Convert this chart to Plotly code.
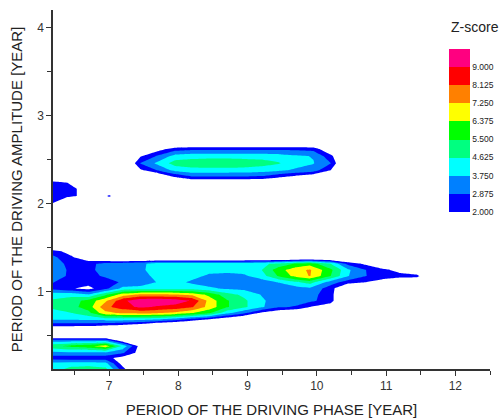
import plotly.graph_objects as go

# ---- contour levels / colours ----
levels = [2.0, 2.875, 3.75, 4.625, 5.5, 6.375, 7.25, 8.125, 9.0]
level_labels = ["2.000", "2.875", "3.750", "4.625", "5.500", "6.375", "7.250", "8.125", "9.000"]
band_colors = ["#0000FF", "#0080FF", "#00FFFF", "#00FF80", "#00FF00",
               "#FFFF00", "#FF8000", "#FF0000", "#FF0080"]

# ---- bottom band (periods of driven amplitude < 0.5 yr) ----
bottom_x = [6.19, 6.45, 6.7, 6.95, 7.2, 7.45, 7.7]
bottom_y = [0.12, 0.19, 0.25, 0.31, 0.385, 0.45, 0.51]
bottom_cols = [
    [4.2, 4.0, 2.4, 3.5, 5.3, 3.3, 0],
    [5.0, 4.1, 2.3, 3.6, 5.8, 3.3, 0],
    [5.2, 4.1, 2.3, 3.6, 6.1, 3.3, 0],
    [4.9, 4.0, 2.3, 3.6, 7.0, 3.3, 0],
    [2.4, 1.5, 1.6, 3.0, 4.4, 1.2, 0],
    [0, 0, 0, 1.6, 1.6, 0, 0],
    [0, 0, 0, 0, 0, 0, 0],
]

# ---- middle band (around 1 yr) ----
middle_x = [6.19, 6.45, 6.7, 6.95, 7.2, 7.45, 7.7, 7.95, 8.2, 8.45, 8.7, 8.95,
            9.2, 9.45, 9.7, 9.9, 10.2, 10.45, 10.7, 10.95, 11.2, 11.45, 11.7]
middle_y = [0.55, 0.62, 0.69, 0.76, 0.83, 0.90, 0.97, 1.04, 1.11, 1.18, 1.25,
            1.32, 1.39, 1.46, 1.53]
middle_cols = [
    [0, 2.33, 3.9, 4.3, 4.8, 4.75, 4.2, 2.6, 2.9, 3.3, 3.4, 3.3, 3.1, 2.4, 0],
    [0, 2.33, 3.9, 4.6, 5.2, 5.1, 4.3, 2.1, 2.5, 2.7, 2.7, 2.6, 2.2, 1.6, 0],
    [0, 2.26, 4.0, 5.2, 5.9, 5.8, 3.8, 1.7, 2.4, 2.6, 2.6, 2.6, 1.2, 0, 0],
    [0, 2.0, 4.2, 7.0, 7.9, 7.1, 5.3, 2.64, 2.5, 3.0, 3.3, 3.2, 0.6, 0, 0],
    [0, 1.83, 4.2, 7.4, 8.6, 8.8, 6.8, 4.0, 3.0, 3.3, 3.4, 3.3, 0, 0, 0],
    [0, 1.43, 4.1, 7.5, 9.2, 9.6, 7.4, 4.1, 3.2, 3.4, 3.6, 3.5, 0, 0, 0],
    [0, 0.6, 3.9, 7.3, 8.9, 9.7, 7.4, 4.2, 3.8, 4.0, 4.1, 4.2, 0, 0, 0],
    [0, 0.2, 3.4, 7.0, 8.7, 9.5, 7.3, 4.2, 4.0, 4.1, 4.2, 4.2, 0, 0, 0],
    [0, 0, 2.6, 6.4, 8.2, 8.9, 7.0, 4.2, 3.6, 4.0, 4.2, 4.2, 0, 0, 0],
    [0, 0, 2.0, 5.6, 6.9, 6.9, 6.1, 3.9, 3.3, 3.6, 4.0, 4.2, 0, 0, 0],
    [0, 0, 1.2, 4.0, 5.6, 5.6, 5.0, 3.6, 3.2, 3.5, 4.0, 4.2, 0, 0, 0],
    [0, 0, 0.6, 3.0, 4.8, 4.8, 4.4, 3.5, 3.2, 3.6, 4.1, 4.2, 0, 0, 0],
    [0, 0, 0, 1.8, 3.9, 3.9, 3.7, 3.4, 3.3, 4.2, 4.6, 4.4, 0, 0, 0],
    [0, 0, 0, 1.2, 3.0, 3.3, 3.3, 3.3, 3.8, 5.6, 6.0, 4.9, 0, 0, 0],
    [0, 0, 0, 0.8, 2.8, 3.2, 3.2, 3.4, 4.5, 6.7, 7.0, 5.6, 0, 0, 0],
    [0, 0, 0, 0.3, 2.0, 3.1, 3.2, 3.6, 5.0, 7.3, 7.35, 6.0, 0, 0, 0],
    [0, 0, 0, 0, 1.4, 2.4, 2.4, 2.4, 3.3, 5.5, 5.7, 4.6, 0, 0, 0],
    [0, 0, 0, 0, 0, 0, 0, 0.6, 2.4, 3.8, 3.9, 2.6, 0, 0, 0],
    [0, 0, 0, 0, 0, 0, 0, 0, 2.0, 2.9, 2.9, 1.8, 0, 0, 0],
    [0, 0, 0, 0, 0, 0, 0, 0, 1.4, 2.6, 2.3, 0.5, 0, 0, 0],
    [0, 0, 0, 0, 0, 0, 0, 0, 0.8, 2.4, 1.6, 0, 0, 0, 0],
    [0, 0, 0, 0, 0, 0, 0, 0, 0.6, 2.3, 1.0, 0, 0, 0, 0],
    [0, 0, 0, 0, 0, 0, 0, 0, 0, 0, 0, 0, 0, 0, 0],
]

# ---- small blob near 2 yr ----
blob_x = [6.19, 6.4, 6.6, 6.8, 7.0, 7.2]
blob_y = [1.92, 2.01, 2.09, 2.17, 2.25, 2.33]
blob_cols = [
    [0, 2.0, 2.6, 2.7, 2.05, 0],
    [0, 1.0, 2.2, 2.6, 1.9, 0],
    [0, 0, 1.9, 1.7, 0.5, 0],
    [0, 0, 0, 0, 0, 0],
    [0, 0, 2.3, 0, 0, 0],
    [0, 0, 0, 0, 0, 0],
]

# ---- upper band (around 2.45 yr) ----
upper_x = [7.2, 7.45, 7.7, 7.95, 8.2, 8.45, 8.7, 8.95, 9.2, 9.45, 9.7, 9.95, 10.2, 10.45]
upper_y = [2.22, 2.30, 2.38, 2.46, 2.54, 2.62, 2.70]
upper_cols = [
    [0, 0, 0, 0, 0, 0, 0],
    [0, 0.5, 1.8, 2.9, 1.9, 0.6, 0],
    [0, 0.5, 2.9, 3.95, 3.0, 1.6, 0],
    [0, 1.9, 4.0, 5.0, 4.1, 2.5, 0],
    [0, 2.7, 4.3, 5.1, 4.3, 2.7, 0],
    [0, 2.7, 4.3, 5.2, 4.35, 2.7, 0],
    [0, 2.7, 4.3, 5.2, 4.35, 2.7, 0],
    [0, 2.7, 4.25, 5.15, 4.3, 2.7, 0],
    [0, 2.6, 4.1, 5.0, 4.3, 2.7, 0],
    [0, 2.0, 3.9, 4.7, 4.2, 2.7, 0],
    [0, 1.5, 3.6, 4.1, 3.9, 2.7, 0],
    [0, 1.0, 3.3, 3.8, 3.7, 2.6, 0],
    [0, 0.3, 2.0, 2.9, 2.3, 1.0, 0],
    [0, 0, 0, 0, 0, 0, 0],
]

x_ticks = [7, 8, 9, 10, 11, 12]
y_ticks = [1, 2, 3, 4]


def rows(cols):
    return [list(r) for r in zip(*cols)]


n = len(band_colors)
contour_scale = [[0.0, "rgba(255,255,255,0)"]] + [[(k + 1) / n, band_colors[k]] for k in range(n)]
step = levels[1] - levels[0]

fig = go.Figure()
for xs, ys, cols in [(bottom_x, bottom_y, bottom_cols), (middle_x, middle_y, middle_cols),
                     (blob_x, blob_y, blob_cols), (upper_x, upper_y, upper_cols)]:
    fig.add_trace(go.Contour(
        x=xs, y=ys, z=rows(cols),
        autocontour=False,
        contours=dict(start=levels[0], end=levels[-1], size=step,
                      coloring="fill", showlines=False),
        line=dict(width=0, smoothing=0),
        colorscale=contour_scale, showscale=False, hoverinfo="skip",
    ))

# colour key
bar_scale = []
for k, c in enumerate(band_colors):
    bar_scale.append([k / n, c])
    bar_scale.append([(k + 1) / n, c])
fig.add_trace(go.Scatter(
    x=[None], y=[None], mode="markers", showlegend=False, hoverinfo="skip",
    marker=dict(color=[levels[0]], cmin=levels[0], cmax=levels[-1] + step,
                colorscale=bar_scale, showscale=True,
                colorbar=dict(
                    x=0.906, xanchor="left", xpad=0,
                    y=0.438, yanchor="bottom", ypad=0,
                    len=0.453, lenmode="fraction", thickness=21,
                    outlinewidth=0, ticks="",
                    tickmode="array", tickvals=levels, ticktext=level_labels,
                    tickfont=dict(size=8.5, color="#222"),
                )),
))
fig.add_annotation(text="Z-score", x=0.965, y=0.952, xref="paper", yref="paper",
                   xanchor="center", yanchor="middle", showarrow=False,
                   font=dict(size=14, color="#222"))

axis_common = dict(
    showline=True, linecolor="#333", linewidth=1.5, mirror=False,
    ticks="outside", ticklen=5, tickwidth=1.2, tickcolor="#333",
    showgrid=False, zeroline=False,
    tickfont=dict(size=12, color="#333"),
    minor=dict(ticks="outside", ticklen=4, tickwidth=1.2, tickcolor="#333", dtick=0.5),
)
fig.update_xaxes(range=[6.19, 12.5], tickmode="array", tickvals=x_ticks,
                 title=dict(text="PERIOD OF THE DRIVING PHASE [YEAR]",
                            font=dict(size=15, color="#222"), standoff=12),
                 **axis_common)
fig.update_yaxes(range=[0.125, 4.2], tickmode="array", tickvals=y_ticks,
                 title=dict(text="PERIOD OF THE DRIVING AMPLITUDE [YEAR]",
                            font=dict(size=15, color="#222"), standoff=11),
                 **axis_common)
fig.update_layout(
    width=499, height=420,
    margin=dict(l=53, r=9, t=10, b=51, autoexpand=False),
    plot_bgcolor="white", paper_bgcolor="white",
    font=dict(family="Liberation Sans, Arial, sans-serif"),
    showlegend=False,
)
fig.write_html("out.html")
